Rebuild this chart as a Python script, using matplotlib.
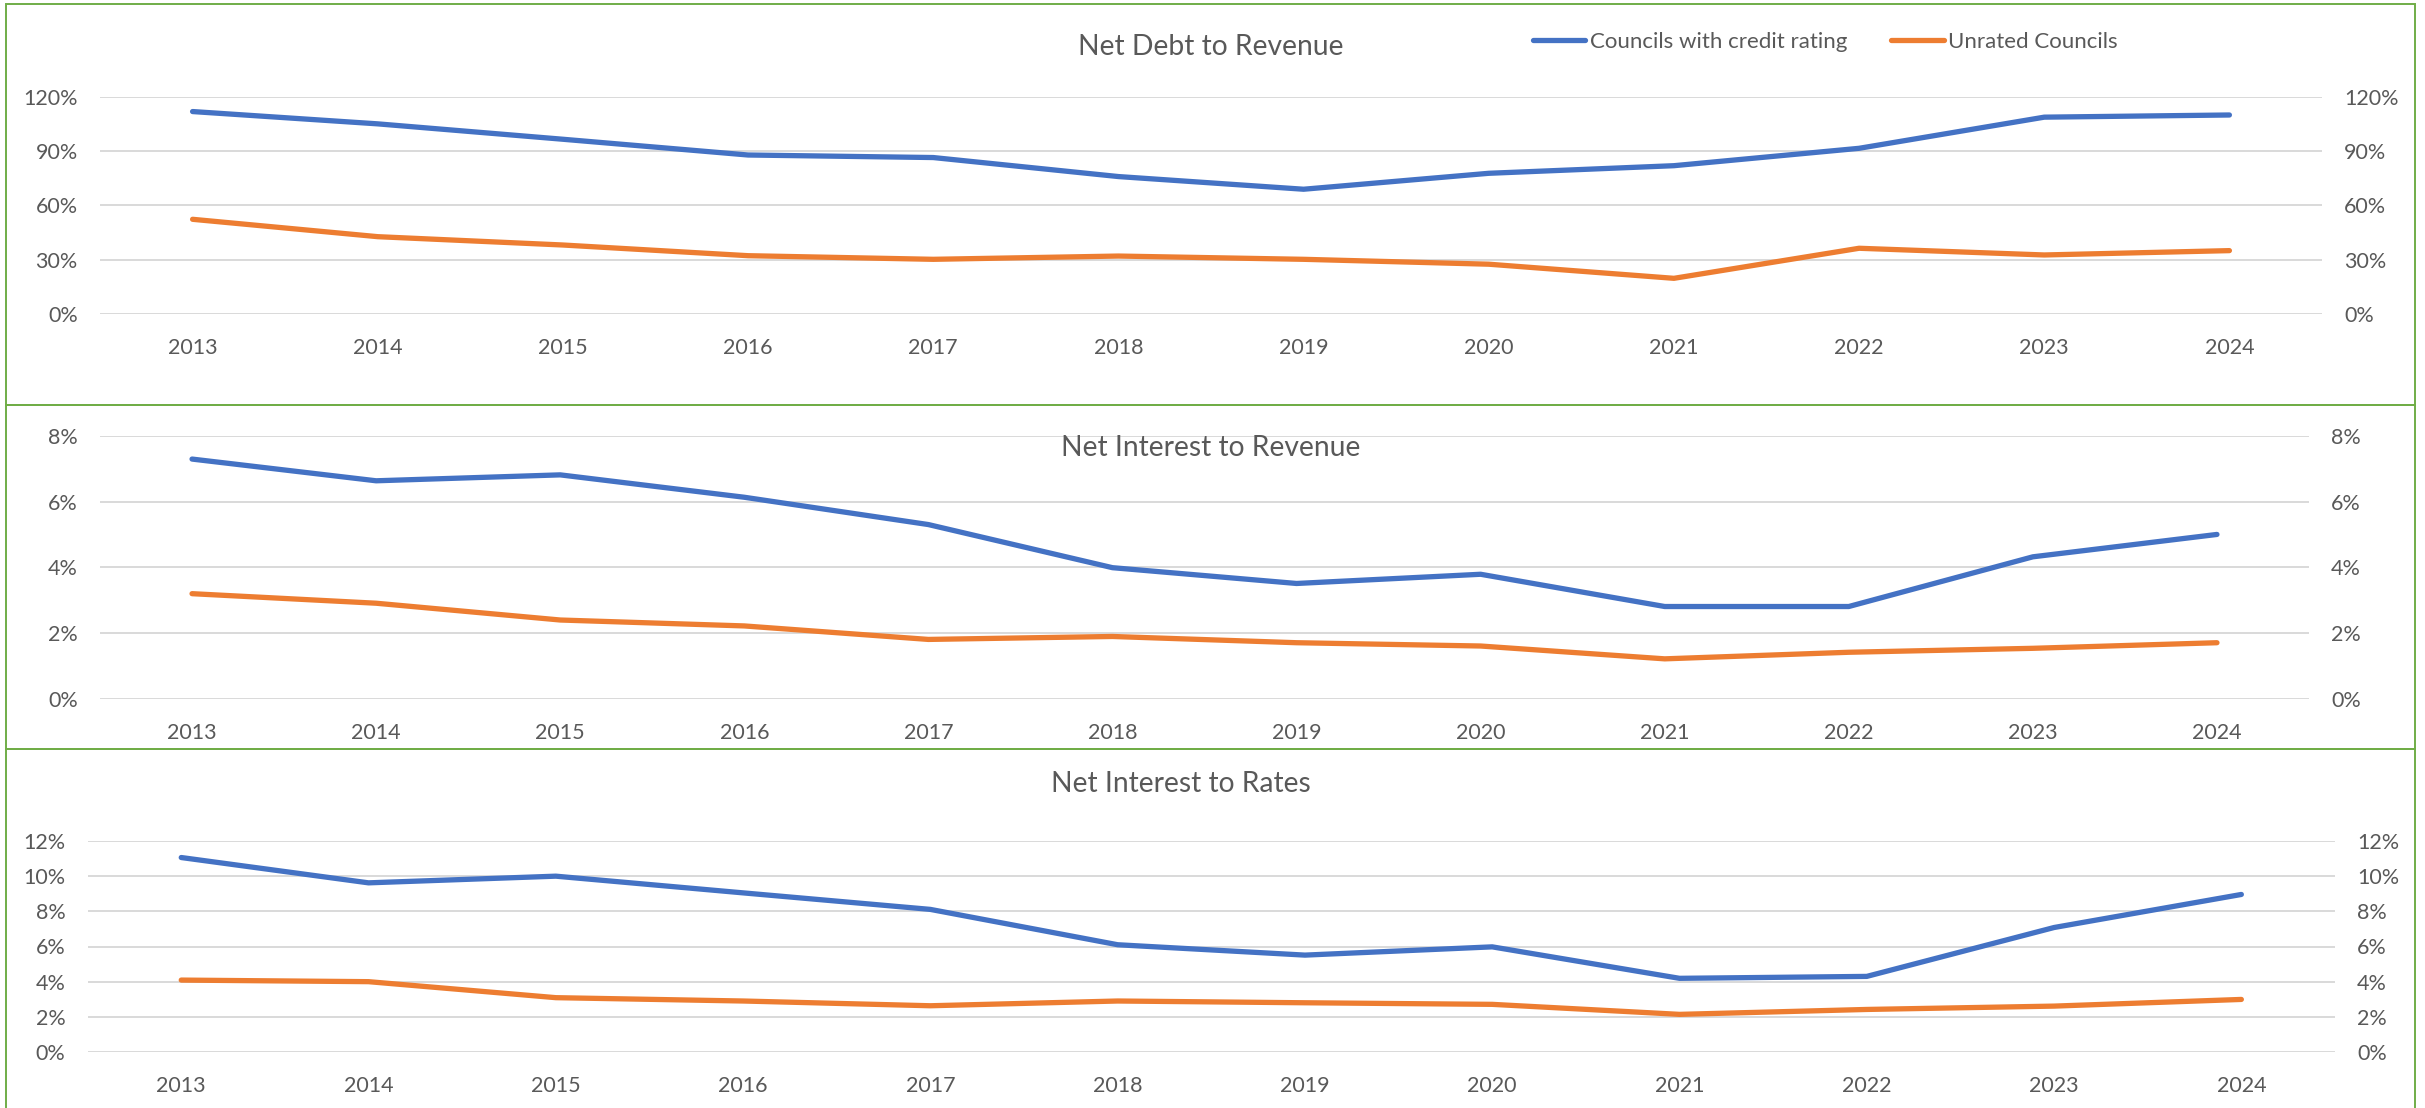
import matplotlib
matplotlib.use("Agg")
import matplotlib.pyplot as plt
from matplotlib.patches import Rectangle
from matplotlib.ticker import FuncFormatter, MultipleLocator
from matplotlib.lines import Line2D

# ---- data -------------------------------------------------------------
years = ["2013", "2014", "2015", "2016", "2017", "2018",
         "2019", "2020", "2021", "2022", "2023", "2024"]

series_names = ["Councils with credit rating", "Unrated Councils"]

# Net debt to revenue (%)
debt_rev_rated = [111.8, 105.0, 96.5, 87.8, 86.4, 75.9, 68.9, 77.7, 81.9, 91.5, 108.7, 109.9]
debt_rev_unrated = [52.3, 42.7, 38.1, 32.2, 30.2, 32.0, 30.2, 27.5, 19.7, 36.3, 32.6, 35.0]

# Net interest to revenue (%)
int_rev_rated = [7.29, 6.63, 6.81, 6.13, 5.30, 3.99, 3.51, 3.79, 2.81, 2.81, 4.32, 5.00]
int_rev_unrated = [3.20, 2.91, 2.40, 2.22, 1.81, 1.90, 1.71, 1.61, 1.22, 1.42, 1.54, 1.71]

# Net interest to rates (%)
int_rates_rated = [11.06, 9.62, 10.0, 9.05, 8.11, 6.10, 5.51, 5.98, 4.19, 4.30, 7.08, 8.96]
int_rates_unrated = [4.09, 4.00, 3.09, 2.90, 2.63, 2.90, 2.80, 2.71, 2.14, 2.42, 2.61, 2.99]

titles = ["Net Debt to Revenue", "Net Interest to Revenue", "Net Interest to Rates"]
y_max = [120, 8, 12]
y_step = [30, 2, 2]

# ---- styling ----------------------------------------------------------
plt.rcParams["font.family"] = ["Lato", "DejaVu Sans"]
BLUE = "#4472C4"
ORANGE = "#ED7D31"
TEXT = "#595959"
GRID = "#D9D9D9"
FRAME = "#70AD47"
LW = 3.8

W, H = 2425, 1108
fig = plt.figure(figsize=(W / 100, H / 100), dpi=100)


def px_axes(x0, x1, ytop, ybot):
    return fig.add_axes([x0 / W, 1 - ybot / H, (x1 - x0) / W, (ybot - ytop) / H])


# plot areas (pixel boxes), title baselines, panel frames
plot_boxes = [(100, 2322, 96.7, 314), (100, 2309, 435.7, 699), (87.6, 2335, 841, 1052)]
title_pos = [(1211, 55), (1211, 456), (1181, 792)]
frames = [(6, 4, 2415, 405), (6, 405, 2415, 749), (6, 749, 2415, 1120)]

data = [(debt_rev_rated, debt_rev_unrated),
        (int_rev_rated, int_rev_unrated),
        (int_rates_rated, int_rates_unrated)]

pct = FuncFormatter(lambda v, _: f"{v:.0f}%")
xs = list(range(len(years)))

for i, (rated, unrated) in enumerate(data):
    ax = px_axes(*plot_boxes[i])
    ax.plot(xs, rated, color=BLUE, lw=LW, solid_capstyle="round",
            solid_joinstyle="round", zorder=3)
    ax.plot(xs, unrated, color=ORANGE, lw=LW, solid_capstyle="round",
            solid_joinstyle="round", zorder=3)
    ax.set_xlim(-0.5, len(years) - 0.5)
    ax.set_ylim(0, y_max[i])
    ax.yaxis.set_major_locator(MultipleLocator(y_step[i]))
    ax.yaxis.set_major_formatter(pct)
    ax.set_xticks(xs)
    ax.set_xticklabels(years)
    ax.yaxis.grid(True, color=GRID, lw=1.4)
    ax.set_axisbelow(True)
    for s in ax.spines.values():
        s.set_visible(False)
    ax.tick_params(axis="y", length=0, pad=16, labelsize=15.5, labelcolor=TEXT,
                   labelleft=True, labelright=True)
    ax.tick_params(axis="x", length=0, pad=17, labelsize=15.5, labelcolor=TEXT)
    ax.patch.set_alpha(0)

    tx, ty = title_pos[i]
    fig.text(tx / W, 1 - ty / H, titles[i], ha="center", va="baseline",
             fontsize=20.3, color=TEXT)

    fx0, fy0, fx1, fy1 = frames[i]
    fig.patches.append(Rectangle((fx0 / W, 1 - fy1 / H), (fx1 - fx0) / W,
                                 (fy1 - fy0) / H, transform=fig.transFigure,
                                 fill=False, edgecolor=FRAME, lw=1.4, zorder=0))

handles = [Line2D([], [], color=BLUE, lw=LW, solid_capstyle="round"),
           Line2D([], [], color=ORANGE, lw=LW, solid_capstyle="round")]
leg = fig.legend(handles, series_names, loc="center left",
                 bbox_to_anchor=(1533 / W, 1 - 42 / H), ncol=2, frameon=False,
                 fontsize=16, handlelength=2.35, handletextpad=0.2,
                 columnspacing=2.0, borderpad=0, borderaxespad=0)
for t in leg.get_texts():
    t.set_color(TEXT)

fig.savefig("out.png", dpi=100, facecolor="white")
